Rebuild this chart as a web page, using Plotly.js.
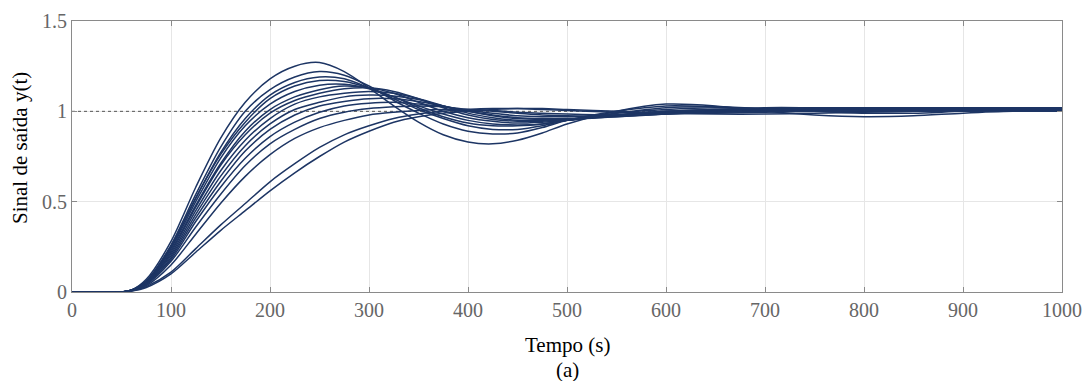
<!DOCTYPE html>
<html>
<head>
<meta charset="utf-8">
<script src="https://cdn.plot.ly/plotly-3.0.1.min.js"></script>
<style>html,body{margin:0;padding:0;background:#fff;}#chart{width:1087px;height:381px;}</style>
</head>
<body>
<div id="chart"></div>
<script>
// time grid (s)
const t = [0,50,60,75,100,125,150,175,200,225,250,275,300,325,350,375,400,425,450,475,500,550,600,650,700,750,800,850,900,950,1000];

// output responses y(t)
const y01 = [0,0,0.01,0.07,0.28,0.58,0.85,1.05,1.18,1.25,1.27,1.22,1.13,1.03,0.94,0.87,0.83,0.82,0.84,0.88,0.93,1.00,1.04,1.03,1.00,0.98,0.97,0.975,0.99,1.0,1.0];
const y02 = [0,0,0.01,0.06,0.26,0.54,0.8,1.0,1.12,1.19,1.22,1.2,1.14,1.06,0.99,0.93,0.89,0.875,0.88,0.91,0.95,1.0,1.03,1.025,1.01,1.0,0.99,0.99,1.0,1.005,1.005];
const y03 = [0,0,0.01,0.06,0.25,0.52,0.77,0.96,1.09,1.16,1.19,1.18,1.13,1.07,1.01,0.96,0.92,0.9,0.9,0.92,0.95,0.99,1.02,1.025,1.015,1.005,1.0,1.0,1.005,1.01,1.01];
const y04 = [0,0,0.01,0.06,0.25,0.52,0.76,0.94,1.07,1.14,1.17,1.165,1.13,1.08,1.02,0.97,0.935,0.92,0.92,0.93,0.95,0.99,1.01,1.02,1.015,1.01,1.01,1.01,1.015,1.015,1.015];
const y05 = [0,0,0.01,0.055,0.24,0.5,0.74,0.92,1.04,1.11,1.145,1.15,1.125,1.08,1.03,0.985,0.95,0.93,0.925,0.93,0.95,0.98,1.0,1.01,1.015,1.015,1.015,1.02,1.02,1.02,1.02];
const y06 = [0,0,0.01,0.055,0.23,0.48,0.71,0.89,1.01,1.08,1.12,1.14,1.13,1.1,1.05,1.0,0.965,0.945,0.935,0.94,0.95,0.98,1.0,1.01,1.01,1.01,1.01,1.01,1.01,1.01,1.01];
const y07 = [0,0,0.01,0.05,0.22,0.47,0.7,0.87,0.99,1.06,1.1,1.125,1.13,1.11,1.07,1.02,0.98,0.955,0.945,0.945,0.955,0.98,1.0,1.01,1.02,1.02,1.02,1.02,1.02,1.02,1.02];
const y08 = [0,0,0.01,0.05,0.21,0.45,0.67,0.84,0.96,1.04,1.08,1.1,1.11,1.1,1.07,1.03,0.99,0.965,0.95,0.95,0.955,0.975,0.995,1.005,1.01,1.01,1.005,1.005,1.005,1.005,1.005];
const y09 = [0,0,0.01,0.05,0.2,0.43,0.64,0.81,0.93,1.01,1.05,1.08,1.09,1.085,1.065,1.03,1.0,0.975,0.96,0.955,0.955,0.97,0.99,1.0,1.01,1.015,1.015,1.015,1.015,1.015,1.015];
const y10 = [0,0,0.01,0.045,0.19,0.41,0.61,0.78,0.9,0.98,1.03,1.055,1.07,1.07,1.055,1.03,1.0,0.98,0.965,0.96,0.96,0.97,0.985,1.0,1.005,1.01,1.01,1.01,1.01,1.01,1.01];
const y11 = [0,0,0.01,0.045,0.18,0.39,0.58,0.74,0.86,0.94,0.995,1.03,1.045,1.05,1.04,1.025,1.005,0.99,0.975,0.97,0.97,0.975,0.99,1.0,1.005,1.005,1.005,1.005,1.005,1.005,1.005];
const y12 = [0,0,0.008,0.04,0.17,0.36,0.54,0.7,0.82,0.9,0.96,0.995,1.015,1.025,1.03,1.025,1.01,1.0,0.99,0.98,0.975,0.975,0.985,0.995,1.0,1.005,1.005,1.005,1.005,1.005,1.005];
const y13 = [0,0,0.007,0.035,0.15,0.32,0.49,0.64,0.76,0.85,0.91,0.95,0.98,0.995,1.005,1.01,1.01,1.005,0.995,0.99,0.985,0.98,0.985,0.995,1.0,1.0,1.0,1.0,1.0,1.0,1.0];
const y14 = [0,0,0.005,0.03,0.11,0.24,0.37,0.49,0.61,0.71,0.8,0.87,0.92,0.96,0.985,1.0,1.01,1.015,1.015,1.01,1.005,0.995,0.99,0.99,0.995,1.0,1.005,1.005,1.005,1.005,1.005];
const y15 = [0,0,0.005,0.025,0.1,0.22,0.34,0.45,0.56,0.66,0.75,0.83,0.89,0.94,0.97,0.99,1.0,1.01,1.015,1.015,1.01,1.0,0.99,0.985,0.985,0.99,0.995,1.0,1.0,1.0,1.0];

const responses = [y01,y02,y03,y04,y05,y06,y07,y08,y09,y10,y11,y12,y13,y14,y15];

// reference (setpoint)
const refT = [0, 1000];
const refY = [1, 1];

const xTicks = [0,100,200,300,400,500,600,700,800,900,1000];
const yTicks = [0,0.5,1,1.5];
const yTickText = ['0','0.5','1','1.5'];

const xTitle = 'Tempo (s)';
const subLabel = '(a)';
const yTitle = 'Sinal de saída y(t)';

const traces = [{
  x: refT, y: refY, mode: 'lines', hoverinfo: 'skip',
  line: {color: '#555555', width: 1, dash: 'dot'}, showlegend: false
}];
responses.forEach(function (ys) {
  traces.push({
    x: t, y: ys, mode: 'lines', showlegend: false,
    line: {color: '#1d3564', width: 1.5, shape: 'spline', smoothing: 0.8}
  });
});

const serif = "'Liberation Serif', 'Times New Roman', Times, serif";
const layout = {
  width: 1087, height: 381,
  margin: {l: 72, r: 25, t: 21, b: 89},
  paper_bgcolor: '#ffffff', plot_bgcolor: '#ffffff',
  showlegend: false,
  font: {family: serif, size: 20, color: '#666666'},
  xaxis: {
    range: [0, 1000], tickvals: xTicks, ticktext: xTicks.map(String),
    showgrid: true, gridcolor: '#e6e6e6', gridwidth: 1,
    zeroline: false, showline: true, linecolor: '#8a8a8a', linewidth: 1, mirror: 'ticks',
    ticks: 'inside', ticklen: 5, tickcolor: '#8a8a8a',
    tickfont: {family: serif, size: 20, color: '#666666'}
  },
  yaxis: {
    range: [0, 1.5], tickvals: yTicks, ticktext: yTickText,
    showgrid: true, gridcolor: '#e6e6e6', gridwidth: 1,
    zeroline: false, showline: true, linecolor: '#8a8a8a', linewidth: 1, mirror: 'ticks',
    ticks: 'inside', ticklen: 5, tickcolor: '#8a8a8a',
    tickfont: {family: serif, size: 20, color: '#666666'}
  },
  annotations: [
    {text: xTitle, xref: 'paper', yref: 'paper', x: 0.5, y: (292 - 345) / 271,
     xanchor: 'center', yanchor: 'middle', showarrow: false,
     font: {family: serif, size: 21, color: '#000000'}},
    {text: subLabel, xref: 'paper', yref: 'paper', x: 0.5, y: (292 - 370) / 271,
     xanchor: 'center', yanchor: 'middle', showarrow: false,
     font: {family: serif, size: 21, color: '#000000'}},
    {text: yTitle, xref: 'paper', yref: 'paper', x: (20 - 72) / 990, y: (292 - 148) / 271,
     xanchor: 'center', yanchor: 'middle', showarrow: false, textangle: -90,
     font: {family: serif, size: 21, color: '#000000'}}
  ]
};

Plotly.newPlot('chart', traces, layout, {staticPlot: true, displayModeBar: false});
</script>
</body>
</html>
